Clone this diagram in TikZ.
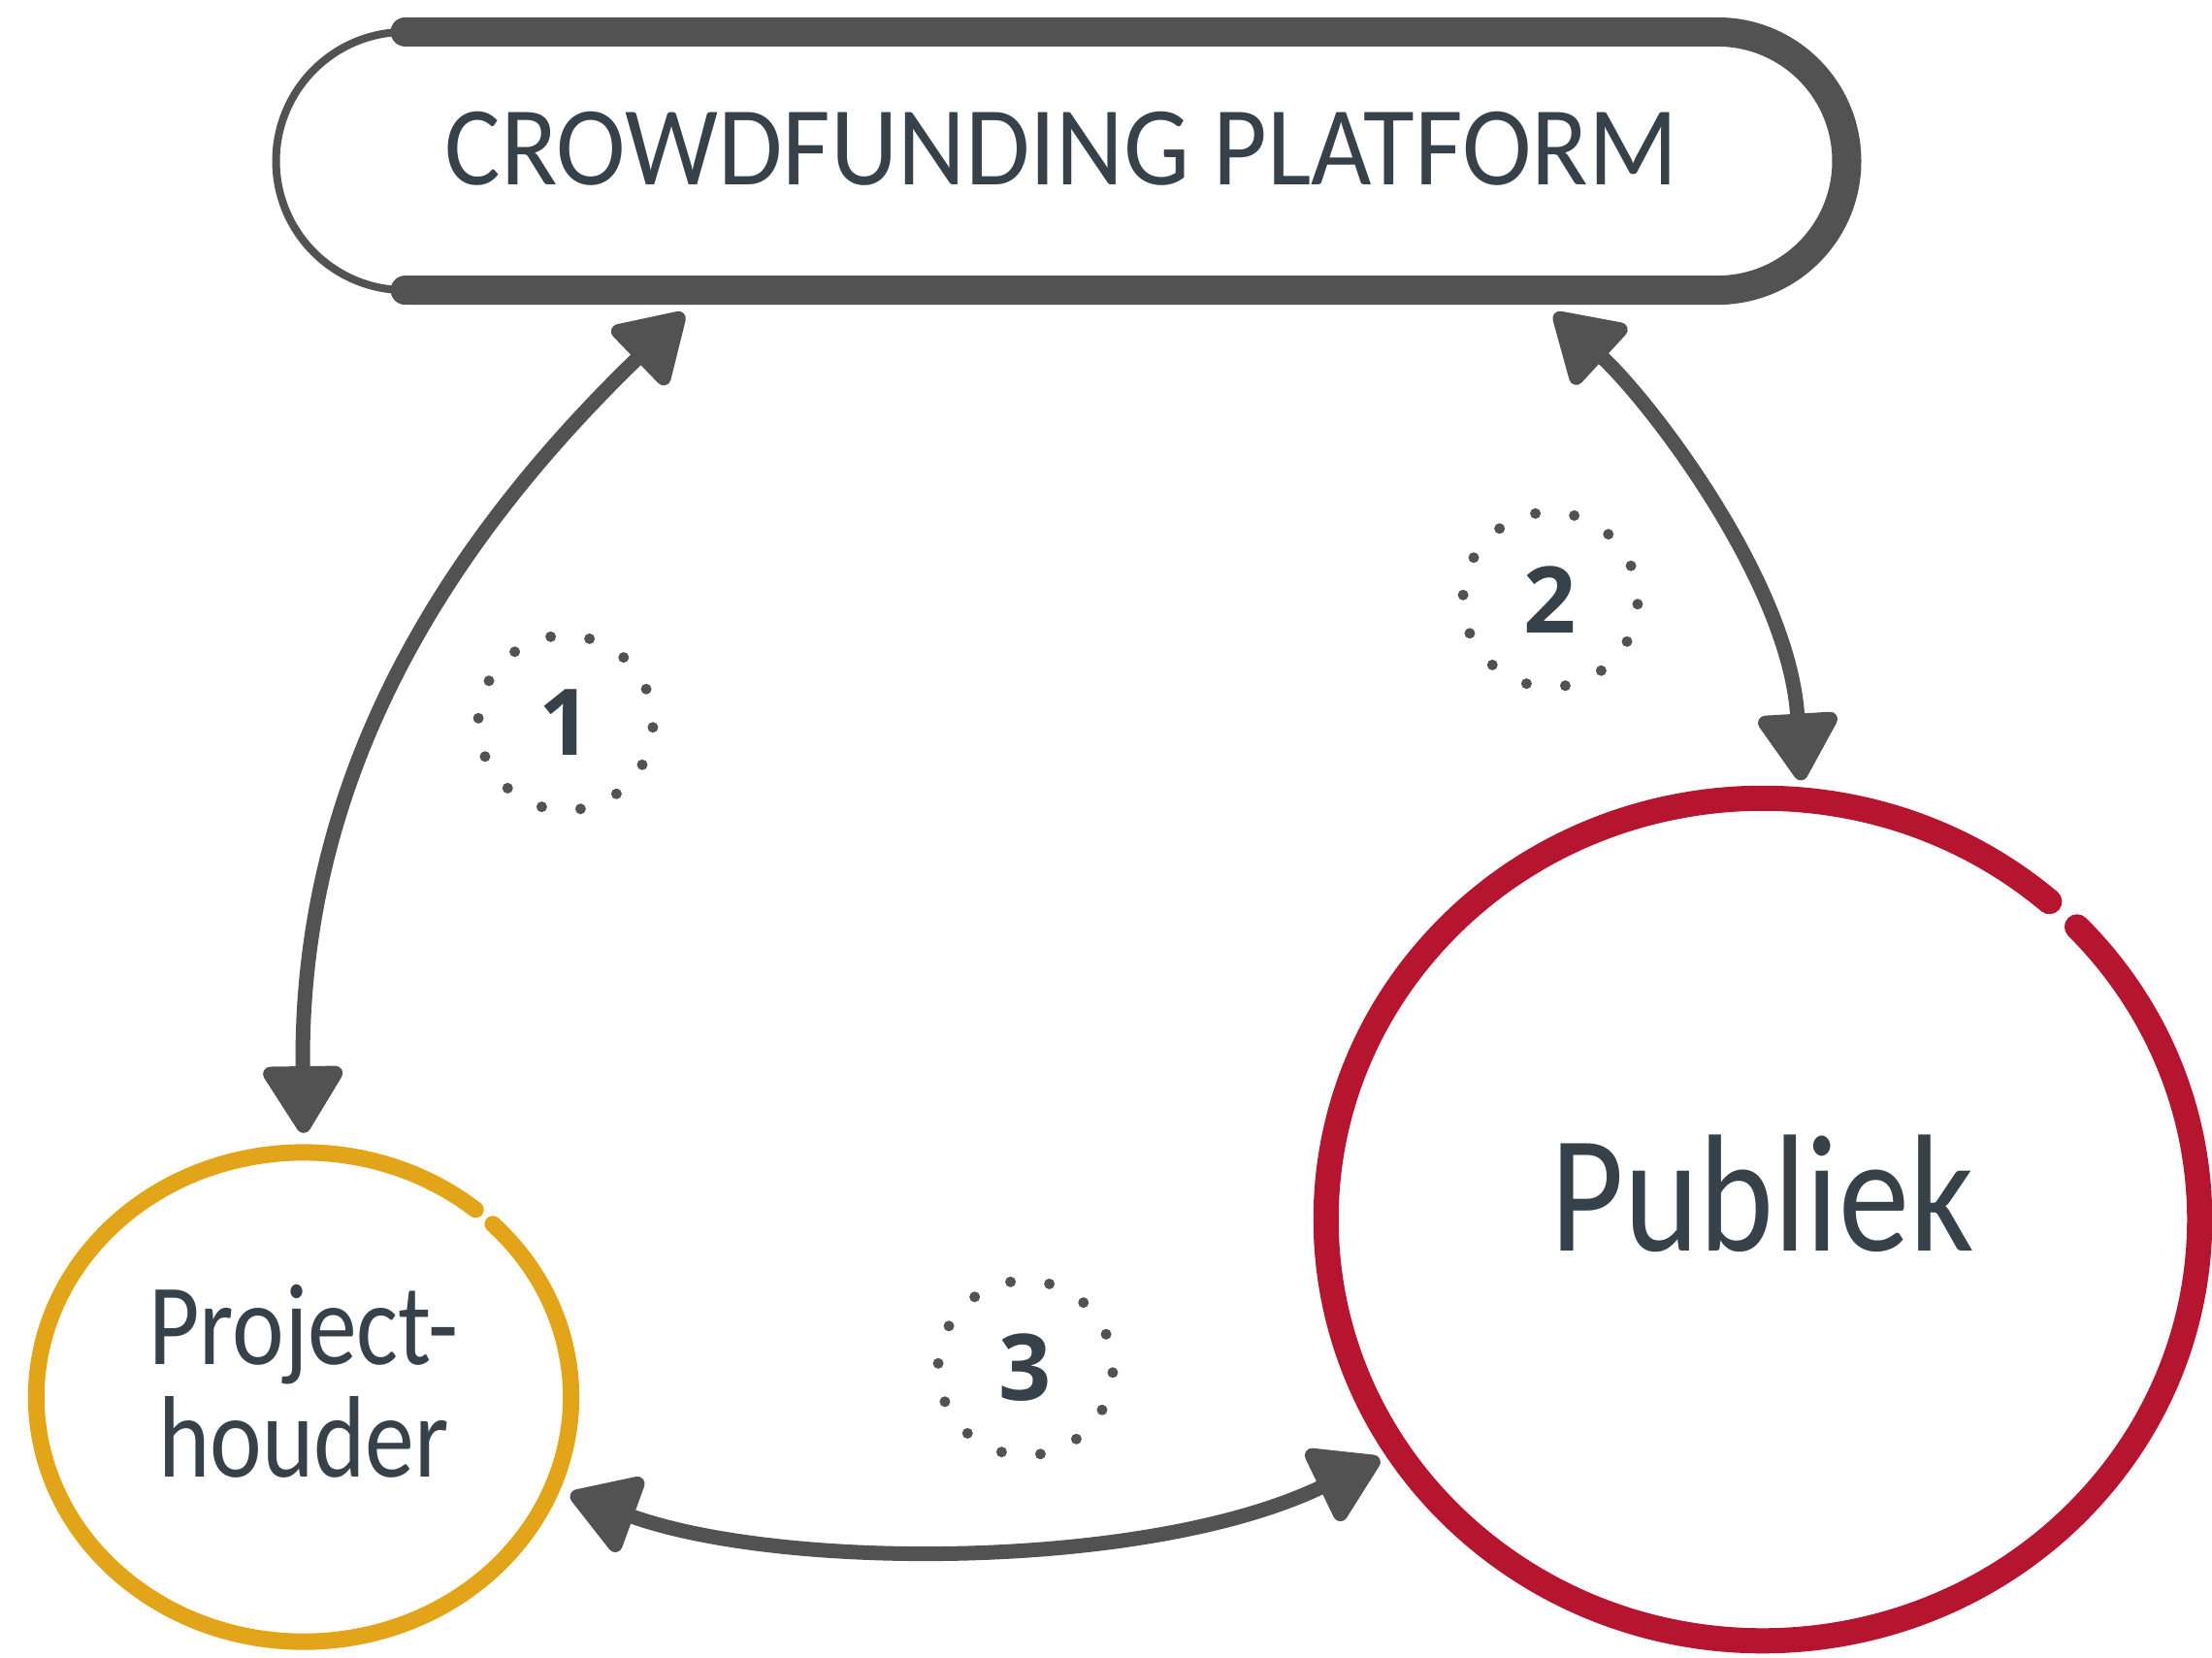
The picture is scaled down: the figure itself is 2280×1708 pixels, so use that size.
\documentclass[tikz,border=0pt]{standalone}
\usepackage{fontspec}
\setmainfont{Carlito}
\newfontfamily\titlefont{Carlito}[FakeStretch=0.93]
\newfontfamily\labelfont{Carlito}[FakeStretch=0.85]
\newfontfamily\digitfont{Open Sans}[UprightFont=* Bold]
\usetikzlibrary{arrows.meta,shapes.geometric}

\definecolor{inkgrey}{HTML}{525252}
\definecolor{textslate}{HTML}{36414A}
\definecolor{houdergold}{HTML}{E2A519}
\definecolor{publiekred}{HTML}{B5152F}

\begin{document}
\begin{tikzpicture}[x=0.01cm, y=-0.01cm,
        ring/.style={ellipse, outer sep=0.2cm, text=textslate, align=center},
        brush/.style={inkgrey, line cap=round},
        link/.style={inkgrey, line width=0.15cm,
                {Triangle[length=0.76cm,width=0.9cm,round]}-{Triangle[length=0.76cm,width=0.9cm,round]}},
        stepnum/.style={text=textslate, font=\digitfont\fontsize{27}{27}\selectfont}]
        \useasboundingbox (0,0) rectangle (2280,1708);

        \node[text=textslate, font=\fontsize{33}{33}\selectfont\titlefont, minimum width=16.18cm,
                minimum height=2.66cm, outer sep=0.24cm, text depth=0.26cm] (platform) at (1094,166)
                {CROWDFUNDING PLATFORM};
        \node[ring, minimum width=5.51cm, minimum height=5.04cm, text depth=0.34cm,
                font=\fontsize{34}{33}\selectfont\labelfont] (houder) at (313,1440) {Project-\\houder};
        \node[ring, minimum width=9cm, minimum height=8.68cm, text depth=0.54cm,
                font=\fontsize{49}{49}\selectfont\labelfont] (publiek) at (1817,1257) {Publiek};

        \node[stepnum] (num1) at (583,745) {1};
        \node[stepnum] (num2) at (1598,618) {2};
        \node[stepnum] (num3) at (1057,1410) {3};

        % platform outline, heavy on top and right, thin strands on the left
        \coordinate (capleft) at ([xshift=-6.76cm]platform.center);
        \draw[brush, line width=0.3cm] ([xshift=-6.76cm, yshift=1.33cm]platform.center)
                -- ([xshift=6.76cm, yshift=1.33cm]platform.center)
                arc[start angle=90, end angle=-90, radius=1.33cm]
                -- ([xshift=-6.76cm, yshift=-1.33cm]platform.center);
        \foreach \r/\w in {1.33cm/0.05cm, 1.30cm/0.02cm, 1.36cm/0.02cm}
                \draw[brush, line width=\w] (capleft) ++(90:\r) arc[start angle=90, end angle=270, radius=\r];

        % rings
        \draw[houdergold, line width=0.17cm, line cap=round] (houder.center) ++(50:2.755cm and 2.52cm)
                arc[start angle=50, end angle=405, x radius=2.755cm, y radius=2.52cm];
        \draw[publiekred, line width=0.26cm, line cap=round] (publiek.center) ++(49:4.5cm and 4.34cm)
                arc[start angle=49, end angle=404, x radius=4.5cm, y radius=4.34cm];

        % dotted markers
        \foreach \marker in {num1,num2,num3}
                \foreach \i in {0,...,13}
                        \fill[inkgrey] ([shift={(\i*360/14-3:0.9cm)}]\marker.center) circle[radius=0.055cm];

        \draw[link] ([xshift=-3.89cm]platform.south) .. controls +(-245,237) and +(-5,-368) .. (houder.north);
        \draw[link] ([xshift=5.08cm]platform.south) .. controls +(98,90) and +(-12,-204) .. (publiek.85);
        \draw[link] (houder.-20) .. controls +(218,79) and +(-238,115) .. (publiek.212);
\end{tikzpicture}
\end{document}
